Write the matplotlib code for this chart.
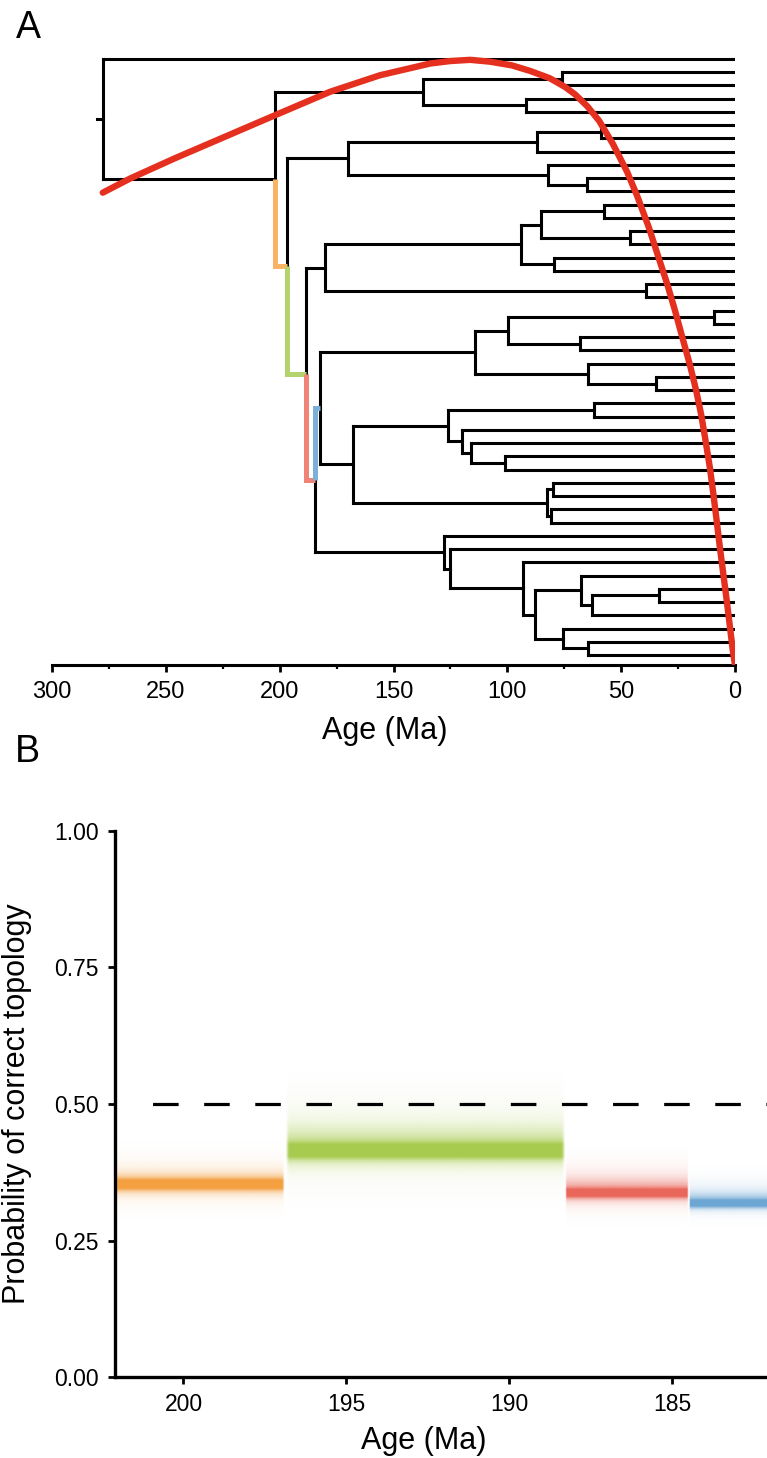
import numpy as np
import matplotlib
matplotlib.use("Agg")
from matplotlib import pyplot as plt
from matplotlib.collections import LineCollection

plt.rcParams['font.family'] = ['Liberation Sans', 'DejaVu Sans']
plt.rcParams['lines.scale_dashes'] = False

# ---- panel A: dated tree, node labels are ages (Ma) ----
tree_newick = ("(t0,(((t1,t2)76,(t3,t4)92)137,((((t5,t6)59,t7)87,(t8,(t9,t10)65)82)170,"
               "(((((t11,t12)57.5,(t13,t14)46)85,(t15,t16)79.5)94,(t17,t18)39)180,"
               "(((((t19,t20)9.2,(t21,t22)68)99.6,(t23,(t24,t25)34.7)64.5)114,"
               "(((t26,t27)62,(t28,(t29,(t30,t31)101)116)120)126,((t32,t33)80,(t34,t35)81)82.6)168)182.2,"
               "(t36,(t37,(t38,((t39,((t40,t41)33.4,t42)63)67.6,(t43,(t44,t45)64.5)75.5)88)93)125)128)184.5)"
               "188.3)196.9)202.1)277.5")
root_edge = 2.6
stem_ages = [196.9, 188.3, 184.5, 182.2]
stem_colors = ['#F8B464', '#B4D26E', '#EF8476', '#7CB0D8']

# red curve (right-hand scale 0..1)
curve_age = [277.7, 265.7, 246.0, 224.0, 202.0, 177.9, 155.9, 133.9, 125.2, 116.3, 107.6,
             98.0, 90.0, 81.3, 74.7, 70.3, 65.0, 59.7, 53.6, 47.4, 43.0, 37.8, 33.7,
             29.9, 26.4, 23.3, 19.8, 17.1, 14.9, 13.2, 11.0, 9.5, 8.0, 6.6, 5.1, 3.6,
             2.2, 0.9, 0.0]
curve_val = [0.768, 0.791, 0.824, 0.859, 0.894, 0.932, 0.959, 0.978, 0.982, 0.984, 0.981,
             0.975, 0.966, 0.954, 0.940, 0.928, 0.909, 0.885, 0.847, 0.802, 0.763, 0.711, 0.664,
             0.621, 0.577, 0.535, 0.488, 0.447, 0.408, 0.371, 0.320, 0.278, 0.233, 0.190,
             0.147, 0.104, 0.061, 0.022, 0.0]

# ---- panel B ----
band_start = [202.1, 196.9, 188.3, 184.5]
band_end = [196.9, 188.3, 184.5, 182.0]
band_prob = [0.352, 0.413, 0.336, 0.317]
band_core = [0.0068, 0.010, 0.0058, 0.0052]
band_halo = [0.026, 0.045, 0.027, 0.021]
band_shift = [0.006, 0.021, 0.013, 0.013]
band_colors = ['#F4A041', '#A7CB4F', '#E9665A', '#6CA6D4']


def parse_newick(s):
    pos = 0

    def node():
        nonlocal pos
        if s[pos] == '(':
            pos += 1
            kids = [node()]
            while s[pos] == ',':
                pos += 1
                kids.append(node())
            pos += 1
            start = pos
            while pos < len(s) and s[pos] not in ',)':
                pos += 1
            return {'kids': kids, 'age': float(s[start:pos])}
        start = pos
        while pos < len(s) and s[pos] not in ',)':
            pos += 1
        return {'kids': [], 'age': 0.0, 'name': s[start:pos]}
    return node()


tree = parse_newick(tree_newick)
counter = [0]


def layout(n, parent=None):
    n['parent'] = parent
    if not n['kids']:
        n['y'] = counter[0]
        counter[0] += 1
    else:
        for k in n['kids']:
            layout(k, n)
        n['y'] = (n['kids'][0]['y'] + n['kids'][-1]['y']) / 2.0


layout(tree)
segs = []
allnodes = []


def collect(n):
    allnodes.append(n)
    if n['kids']:
        segs.append([(n['age'], n['kids'][0]['y']), (n['age'], n['kids'][-1]['y'])])
        for k in n['kids']:
            segs.append([(n['age'], k['y']), (k['age'], k['y'])])
            collect(k)


collect(tree)
segs.append([(tree['age'] + root_edge, tree['y']), (tree['age'], tree['y'])])
ntip = counter[0]

fig = plt.figure(figsize=(7.67, 14.58), dpi=100)

# ---------------- panel A ----------------
ax = fig.add_axes([52 / 767, 1 - 665 / 1458, 683 / 767, 615 / 1458])
ax.add_collection(LineCollection(segs, colors='black', linewidths=2.2, capstyle='projecting'))
for age, col in zip(stem_ages, stem_colors):
    n = min(allnodes, key=lambda m: abs(m['age'] - age) if m['kids'] else 1e9)
    p = n['parent']
    ax.plot([p['age'], p['age'], n['age']], [p['y'], n['y'], n['y']], color=col,
            lw=3.6, solid_capstyle='butt', solid_joinstyle='miter', zorder=3)
ax.set_xlim(300, 0)
ax.set_ylim(ntip - 1 + 0.75, -0.68)
for s in ['top', 'right', 'left']:
    ax.spines[s].set_visible(False)
ax.spines['bottom'].set_linewidth(2.2)
ax.set_yticks([])
ax.set_xticks(np.arange(0, 301, 50))
ax.set_xticks(np.arange(25, 300, 50), minor=True)
ax.tick_params(axis='x', which='major', length=5, width=2.0, labelsize=17, pad=6.5)
ax.tick_params(axis='x', which='minor', length=3, width=1.6)
ax.set_xlabel('Age (Ma)', fontsize=22, va='center')
ax.xaxis.set_label_coords((385 - 52) / 683, -(731 - 665) / 615)

ax2 = ax.twinx()
ax2.set_ylim(0, 1)
ax2.plot(curve_age, curve_val, color='#E5301F', lw=4.6, solid_capstyle='round',
         solid_joinstyle='round', zorder=5)
ax2.axis('off')

fig.text(28 / 767, 1 - 28.5 / 1458, 'A', fontsize=27, ha='center', va='center')

# ---------------- panel B ----------------
bx = fig.add_axes([115 / 767, 1 - 1377 / 1458, 652 / 767, 546 / 1458])
yy = np.linspace(0, 1, 1201)
for x0, x1, m, cs, hs, sh, col in zip(band_start, band_end, band_prob, band_core,
                                      band_halo, band_shift, band_colors):
    d = yy - m
    a = (0.9 * np.exp(-0.5 * (d / cs) ** 2)
         + 0.45 * np.exp(-0.5 * ((d - 0.4 * sh) / (0.5 * hs)) ** 2)
         + 0.16 * np.exp(-0.5 * ((d - sh) / hs) ** 2))
    a = np.clip(a, 0, 1)
    nx = 200
    xs = np.linspace(0, 1, nx)
    taper = np.clip(np.minimum(xs, 1 - xs) / 0.012, 0, 1)
    rgb = matplotlib.colors.to_rgb(col)
    img = np.zeros((len(yy), nx, 4))
    img[..., 0], img[..., 1], img[..., 2] = rgb
    img[..., 3] = a[:, None] * taper[None, :]
    bx.imshow(img, extent=(x0, x1, 0, 1), origin='lower', aspect='auto',
              interpolation='bilinear', zorder=1)
bx.axhline(0.5, xmin=(127 - 115) / 652, color='black', lw=2.3,
           linestyle=(18.4, (18.4, 18.4)), zorder=2)
bx.set_xlim(202.1, 182.1)
bx.set_ylim(0, 1)
bx.set_xticks([200, 195, 190, 185])
bx.set_yticks([0, 0.25, 0.5, 0.75, 1.0])
bx.set_yticklabels(['0.00', '0.25', '0.50', '0.75', '1.00'])
for s in ['top', 'right']:
    bx.spines[s].set_visible(False)
for s in ['left', 'bottom']:
    bx.spines[s].set_linewidth(2.4)
bx.tick_params(length=5, width=2.0, labelsize=16.5, pad=6.5)
bx.set_xlabel('Age (Ma)', fontsize=22, va='center')
bx.xaxis.set_label_coords((424 - 115) / 652, -(1441 - 1377) / 546)
bx.set_ylabel('Probability of correct topology', fontsize=22, va='baseline')
bx.yaxis.set_label_coords((24.5 - 115) / 652, 0.5)

fig.text(27 / 767, 1 - 752 / 1458, 'B', fontsize=27, ha='center', va='center')

fig.savefig('out.png', dpi=100)
